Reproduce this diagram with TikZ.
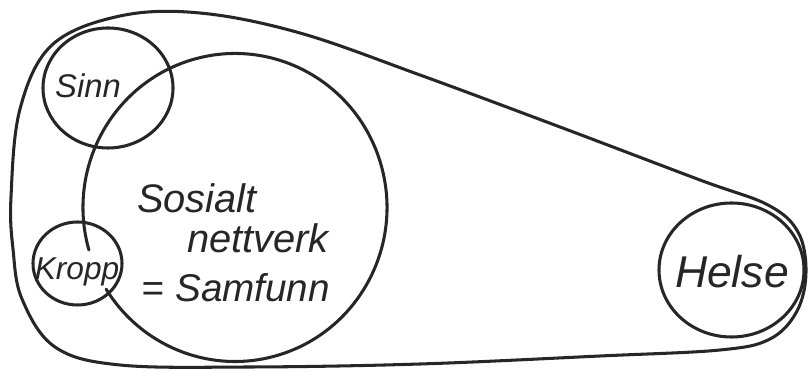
\documentclass[tikz,border=0pt]{standalone}
\usepackage{fontspec}
\setmainfont{Liberation Sans}
\usetikzlibrary{positioning,shapes.geometric}

\begin{document}
\begin{tikzpicture}[
        x=0.03cm, y=0.03cm,
        pen/.style={line width=2.6pt, line join=round, line cap=round, black!85},
        ring/.style={draw, ellipse, pen, inner sep=0pt},
        hand/.style={font=\itshape\fontsize{#1}{#1}\selectfont, inner sep=0pt, anchor=base, black!85}
    ]
        \useasboundingbox (0,0) rectangle (810,377);

        % outer belt round everything
        \draw[pen] plot[smooth cycle, tension=0.6] coordinates {
            (11,180) (20,268) (52,332) (120,361) (200,364) (300,344)
            (420,302) (560,250) (700,197) (768,172) (798,145) (806,105)
            (797,66) (770,38) (720,27) (600,21) (420,13) (250,10) (120,12)
            (55,30) (22,78) (13,128)};

        % open loop of the social network
        \coordinate (net) at (235,169.5);
        \draw[pen] ([shift={(196:152 and 154)}]net)
            arc[start angle=196, end angle=-148, x radius=152, y radius=154];

        \node[ring, minimum width=3.9cm, minimum height=3.6cm] (sinn) at (108,289) {};
        \node[ring, minimum width=2.67cm, minimum height=2.49cm] (kropp) at (77.5,113.5) {};
        \node[ring, minimum width=4.35cm, minimum height=4.02cm] (helse) at (731.5,107) {};

        \node[hand=28] (sinntxt) at (88,279) {Sinn};
        \node[hand=27] (kropptxt) at (77,97) {Kropp};
        \node[hand=34] (sosialt) at (197,164) {Sosialt};
        \node[hand=34] (nettverk) at (258,124) {nettverk};
        \node[hand=33] (samfunn) at (236,75) {= Samfunn};
        \node[hand=38] (helsetxt) at (732,89) {Helse};
    \end{tikzpicture}
\end{document}
